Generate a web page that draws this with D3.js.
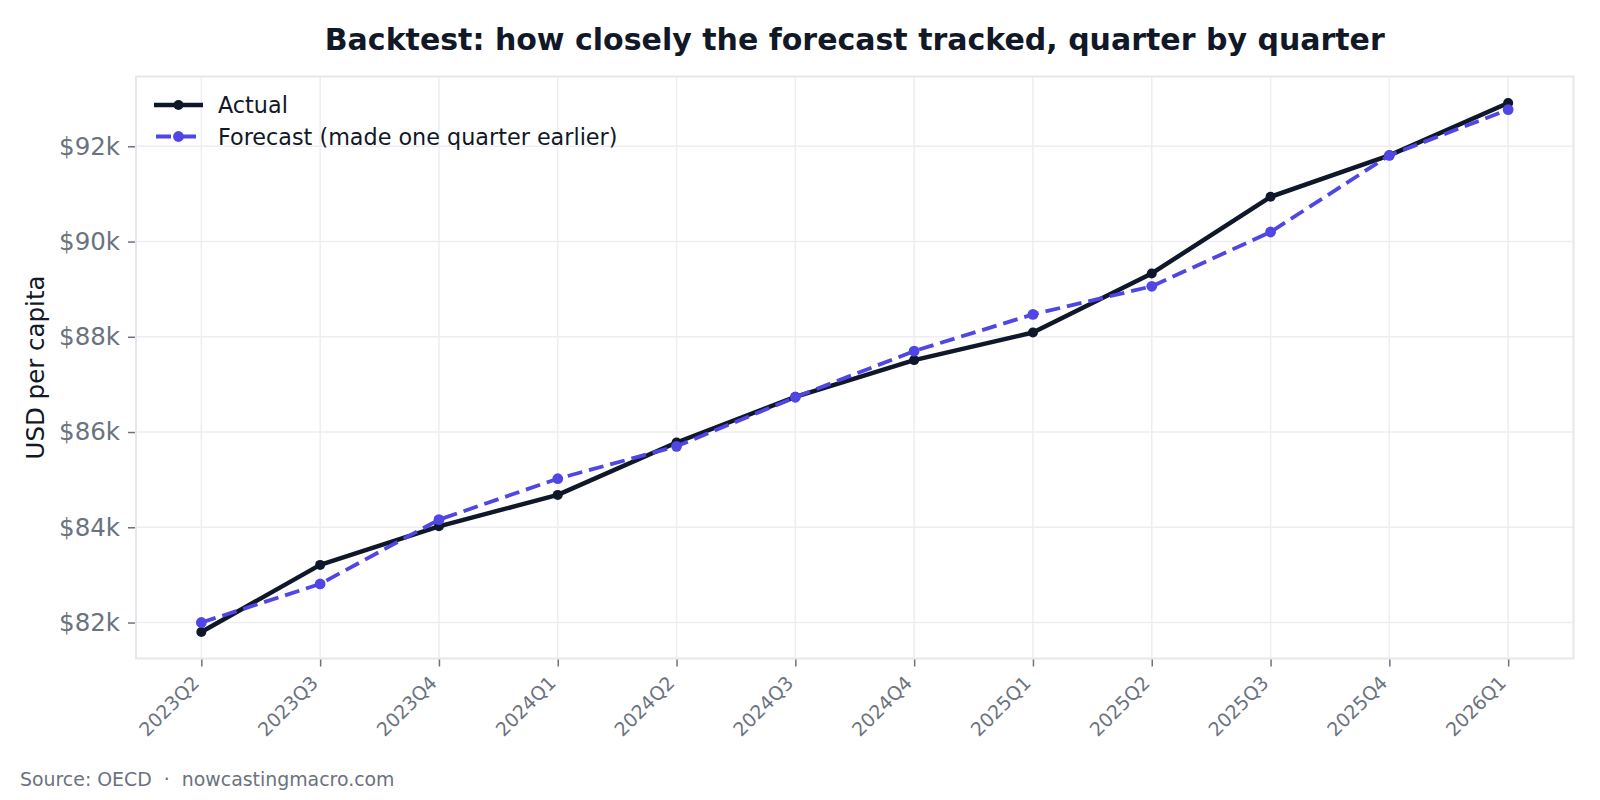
<!DOCTYPE html>
<html>
<head>
<meta charset="utf-8">
<script src="https://cdn.jsdelivr.net/npm/d3@7"></script>
<style>
  html, body { margin: 0; padding: 0; background: #fff; }
  svg text { font-family: "DejaVu Sans", sans-serif; }
</style>
</head>
<body>
<div id="viz-container"></div>
<script>
const quarters = ["2023Q2", "2023Q3", "2023Q4", "2024Q1", "2024Q2", "2024Q3",
  "2024Q4", "2025Q1", "2025Q2", "2025Q3", "2025Q4", "2026Q1"];
const actual = [81.80, 83.21, 84.02, 84.68, 85.78, 86.74, 87.51, 88.09, 89.33, 90.94, 91.81, 92.91];
const forecast = [82.00, 82.81, 84.16, 85.02, 85.70, 86.73, 87.70, 88.47, 89.06, 90.20, 91.81, 92.77];
const yTicks = [82, 84, 86, 88, 90, 92];

const width = 1600, height = 800;
const margin = { top: 76.5, right: 26.5, bottom: 141.5, left: 136 };

const svg = d3.select("#viz-container").append("svg")
  .attr("width", width).attr("height", height);

const x = d3.scalePoint()
  .domain(quarters)
  .range([margin.left, width - margin.right])
  .padding(0.55);

const [lo, hi] = d3.extent(actual.concat(forecast));
const pad = (hi - lo) * 0.05;
const y = d3.scaleLinear()
  .domain([lo - pad, hi + pad])
  .range([height - margin.bottom, margin.top]);

const gridColor = "#eeeef2";
const tickColor = "#6b7280";

// grid
svg.append("g").selectAll("line.vg").data(quarters).join("line")
  .attr("x1", d => x(d)).attr("x2", d => x(d))
  .attr("y1", margin.top).attr("y2", height - margin.bottom)
  .attr("stroke", gridColor).attr("stroke-width", 1.5);
svg.append("g").selectAll("line.hg").data(yTicks).join("line")
  .attr("x1", margin.left).attr("x2", width - margin.right)
  .attr("y1", d => y(d)).attr("y2", d => y(d))
  .attr("stroke", gridColor).attr("stroke-width", 1.5);

// frame
svg.append("rect")
  .attr("x", margin.left).attr("y", margin.top)
  .attr("width", width - margin.left - margin.right)
  .attr("height", height - margin.top - margin.bottom)
  .attr("fill", "none").attr("stroke", "#e5e7eb").attr("stroke-width", 2);

// x axis
const xAxis = svg.append("g")
  .attr("transform", `translate(0,${height - margin.bottom + 1})`)
  .call(d3.axisBottom(x).tickSize(7).tickPadding(4));
xAxis.select(".domain").remove();
xAxis.selectAll(".tick line").attr("stroke", tickColor).attr("stroke-width", 1.5);
xAxis.selectAll(".tick text")
  .attr("fill", tickColor)
  .style("font-size", "19px")
  .attr("text-anchor", "end")
  .attr("dy", "0.35em")
  .attr("y", 0)
  .attr("transform", "translate(-6,20) rotate(-45)");

// y axis
const yAxis = svg.append("g")
  .attr("transform", `translate(${margin.left - 1},0)`)
  .call(d3.axisLeft(y).tickValues(yTicks).tickSize(7).tickPadding(8)
    .tickFormat(d => "$" + d + "k"));
yAxis.select(".domain").remove();
yAxis.selectAll(".tick line").attr("stroke", tickColor).attr("stroke-width", 1.5);
yAxis.selectAll(".tick text").attr("fill", tickColor).style("font-size", "24.5px");

// y label
svg.append("text")
  .attr("transform", `translate(44,${(margin.top + height - margin.bottom) / 2}) rotate(-90)`)
  .attr("text-anchor", "middle")
  .attr("fill", "#111827")
  .style("font-size", "24.5px")
  .text("USD per capita");

// title
svg.append("text")
  .attr("x", (margin.left + width - margin.right) / 2)
  .attr("y", 50)
  .attr("text-anchor", "middle")
  .attr("fill", "#111827")
  .style("font-size", "30px")
  .style("font-weight", "bold")
  .text("Backtest: how closely the forecast tracked, quarter by quarter");

// series
const series = [
  { name: "Actual", values: actual, color: "#0f172a", width: 4.5, dash: null, r: 5 },
  { name: "Forecast (made one quarter earlier)", values: forecast, color: "#4f46e5", width: 3.8, dash: "15,7", r: 5.4 },
];

const line = d3.line().x((d, i) => x(quarters[i])).y(d => y(d));

series.forEach(s => {
  const g = svg.append("g");
  g.append("path")
    .datum(s.values)
    .attr("d", line)
    .attr("fill", "none")
    .attr("stroke", s.color)
    .attr("stroke-width", s.width)
    .attr("stroke-linejoin", "round")
    .attr("stroke-dasharray", s.dash);
  g.selectAll("circle").data(s.values).join("circle")
    .attr("cx", (d, i) => x(quarters[i]))
    .attr("cy", d => y(d))
    .attr("r", s.r)
    .attr("fill", s.color);
});

// legend
const legend = svg.append("g").attr("transform", "translate(154,105)");
series.forEach((s, i) => {
  const row = legend.append("g").attr("transform", `translate(0,${i * 31.5})`);
  row.append("line")
    .attr("x1", 0).attr("x2", 49).attr("y1", 0).attr("y2", 0)
    .attr("stroke", s.color).attr("stroke-width", s.width)
    .attr("stroke-dasharray", s.dash ? "15,10" : null)
    .attr("stroke-dashoffset", s.dash ? -2 : null);
  row.append("circle").attr("cx", 24.5).attr("cy", 0).attr("r", s.r).attr("fill", s.color);
  row.append("text")
    .attr("x", 64).attr("y", 8)
    .attr("fill", "#111827")
    .style("font-size", "22.3px")
    .text(s.name);
});

// source
svg.append("text")
  .attr("x", 20).attr("y", 786)
  .attr("fill", tickColor)
  .style("font-size", "18.9px")
  .attr("xml:space", "preserve")
  .style("white-space", "pre")
  .text("Source: OECD  ·  nowcastingmacro.com");
</script>
</body>
</html>
